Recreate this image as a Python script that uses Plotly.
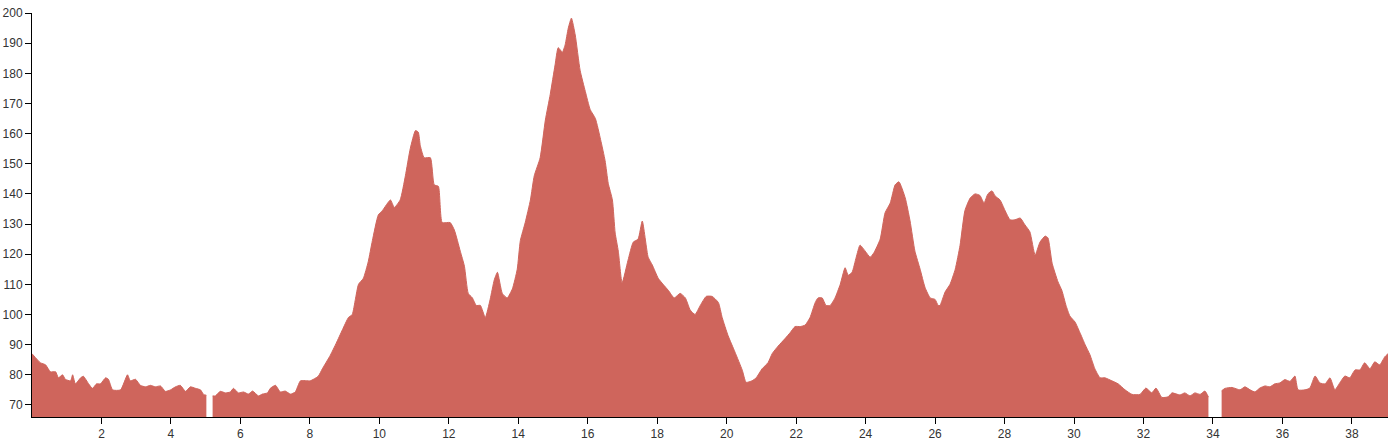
import plotly.graph_objects as go

distance_km = [
    0.0, 0.24, 0.39, 0.53, 0.68, 0.76, 0.88, 0.96, 1.11, 1.17, 1.25, 1.40, 1.48, 1.63, 1.74, 1.86, 1.97,
    2.12, 2.20, 2.32, 2.55, 2.75, 2.83, 2.98, 3.12, 3.27, 3.41, 3.55, 3.70, 3.84, 3.99, 4.13, 4.27,
    4.42, 4.56, 4.71, 4.85, 4.94, 5.02, 5.10, 5.20, 5.28, 5.42, 5.57, 5.71, 5.80, 5.94, 6.09, 6.23,
    6.35, 6.52, 6.63, 6.78, 6.86, 7.01, 7.15, 7.29, 7.44, 7.58, 7.73, 8.01, 8.24, 8.36, 8.59, 8.76,
    8.94, 9.11, 9.22, 9.31, 9.40, 9.54, 9.68, 9.80, 9.97, 10.09, 10.32, 10.43, 10.60, 10.75, 10.89,
    11.04, 11.12, 11.18, 11.29, 11.47, 11.58, 11.70, 11.81, 12.04, 12.16, 12.33, 12.45, 12.56, 12.68,
    12.79, 12.91, 13.05, 13.19, 13.31, 13.40, 13.54, 13.68, 13.83, 13.97, 14.06, 14.20, 14.35, 14.46,
    14.63, 14.78, 14.92, 15.06, 15.15, 15.27, 15.35, 15.44, 15.53, 15.64, 15.78, 15.93, 16.07, 16.22,
    16.37, 16.50, 16.59, 16.71, 16.79, 16.88, 16.99, 17.16, 17.31, 17.45, 17.57, 17.74, 17.86, 18.03,
    18.17, 18.32, 18.49, 18.66, 18.81, 18.95, 19.09, 19.24, 19.41, 19.58, 19.76, 19.87, 20.04, 20.24,
    20.45, 20.56, 20.73, 20.85, 21.02, 21.19, 21.31, 21.48, 21.68, 21.83, 21.97, 22.12, 22.26, 22.40,
    22.55, 22.63, 22.75, 22.86, 22.98, 23.12, 23.27, 23.41, 23.50, 23.61, 23.73, 23.84, 23.99, 24.13,
    24.24, 24.42, 24.56, 24.71, 24.85, 24.96, 25.14, 25.28, 25.42, 25.57, 25.71, 25.86, 26.00, 26.09,
    26.14, 26.29, 26.43, 26.58, 26.72, 26.86, 27.01, 27.15, 27.29, 27.41, 27.52, 27.64, 27.73, 27.87,
    28.01, 28.16, 28.30, 28.45, 28.59, 28.73, 28.88, 29.02, 29.17, 29.25, 29.37, 29.54, 29.65, 29.77,
    29.88, 30.03, 30.17, 30.32, 30.46, 30.60, 30.75, 30.89, 31.09, 31.27, 31.47, 31.67, 31.90, 32.07,
    32.24, 32.36, 32.53, 32.71, 32.82, 33.05, 33.19, 33.34, 33.48, 33.63, 33.77, 33.87, 34.05, 34.25,
    34.35, 34.55, 34.78, 34.92, 35.07, 35.21, 35.35, 35.50, 35.64, 35.78, 35.93, 36.07, 36.22, 36.36,
    36.45, 36.65, 36.79, 36.94, 37.08, 37.23, 37.37, 37.51, 37.65, 37.80, 37.94, 38.09, 38.23, 38.37,
    38.52, 38.66, 38.80, 38.95, 39.04,
]

elevation_m = [
    87.0, 84.0, 83.3, 81.0, 81.0, 79.0, 80.0, 78.5, 78.0, 80.0, 77.0, 79.0, 79.5, 77.0, 75.5, 77.0, 77.0,
    79.0, 78.5, 75.0, 75.0, 80.0, 78.0, 78.5, 76.5, 76.0, 76.5, 76.0, 76.3, 74.5, 75.0, 76.0, 76.5,
    74.5, 76.0, 75.5, 75.0, 73.5, 73.2, None, 73.0, 73.0, 74.5, 74.0, 74.3, 75.5, 74.0, 74.3, 73.6,
    74.6, 73.0, 73.6, 74.0, 75.5, 76.5, 74.3, 74.6, 73.6, 74.3, 78.0, 78.0, 79.5, 82.0, 86.5, 90.5,
    95.0, 99.0, 100.0, 105.0, 110.0, 112.0, 117.5, 124.5, 133.0, 134.5, 138.0, 135.5, 138.0, 146.0, 155.0,
    161.0, 160.5, 156.0, 152.0, 152.0, 143.0, 142.5, 130.5, 130.5, 128.0, 121.0, 116.0, 107.0, 105.5,
    103.0, 103.0, 99.0, 105.0, 111.5, 114.0, 107.0, 105.5, 108.5, 115.0, 124.5, 130.5, 138.0, 146.0,
    152.0, 164.5, 173.0, 182.8, 188.5, 187.0, 189.5, 195.0, 198.3, 192.7, 181.0, 174.0, 168.0, 165.0,
    158.0, 151.0, 143.5, 138.0, 127.0, 121.0, 110.5, 118.0, 124.0, 125.0, 131.0, 119.0, 116.4, 112.0,
    110.0, 108.0, 105.5, 107.0, 105.5, 101.5, 100.0, 103.0, 106.0, 106.0, 104.0, 99.0, 93.0, 87.5,
    81.5, 77.5, 78.0, 79.0, 82.0, 84.0, 87.0, 89.5, 92.0, 94.0, 96.0, 96.0, 96.5, 99.0,
    104.0, 105.5, 105.5, 103.0, 103.0, 105.5, 110.0, 115.5, 113.0, 114.0, 119.0, 123.0, 121.0, 119.0,
    120.5, 125.0, 133.7, 137.0, 143.0, 144.0, 138.7, 131.0, 121.0, 115.0, 109.0, 105.5, 105.0, 103.0,
    103.0, 107.5, 110.0, 115.0, 123.0, 134.5, 138.6, 140.0, 139.5, 137.0, 140.0, 141.0, 139.3, 138.0,
    134.6, 131.4, 131.4, 132.0, 129.7, 127.4, 119.7, 124.0, 126.0, 125.4, 117.0, 110.8, 108.0, 103.0,
    99.5, 97.5, 94.0, 90.0, 86.6, 82.0, 79.0, 79.0, 78.0, 77.0, 75.0, 73.5, 73.5, 75.6,
    74.0, 75.6, 72.5, 72.7, 74.0, 73.3, 74.0, 73.0, 74.0, 73.5, 74.6, 72.6, None, 74.7,
    75.5, 75.8, 75.0, 76.0, 75.0, 74.3, 75.6, 76.3, 76.0, 77.0, 77.3, 78.4, 77.8, 79.6,
    75.0, 75.0, 75.6, 79.6, 77.3, 77.0, 79.0, 75.0, 77.3, 79.6, 79.0, 81.6, 81.6, 84.0,
    82.0, 84.3, 83.3, 86.0, 87.0,
]

x_ticks = [2, 4, 6, 8, 10, 12, 14, 16, 18, 20, 22, 24, 26, 28, 30, 32, 34, 36, 38]
y_ticks = [70, 80, 90, 100, 110, 120, 130, 140, 150, 160, 170, 180, 190, 200]

fill_color = "rgb(207,101,92)"

# split the profile into continuous segments at missing readings
segments = []
cur_x, cur_y = [], []
for xv, yv in zip(distance_km, elevation_m):
    if yv is None:
        if cur_x:
            segments.append((cur_x, cur_y))
        cur_x, cur_y = [], []
    else:
        cur_x.append(xv)
        cur_y.append(yv)
if cur_x:
    segments.append((cur_x, cur_y))

fig = go.Figure()
for sx, sy in segments:
    fig.add_trace(
        go.Scatter(
            x=sx,
            y=sy,
            mode="lines",
            line=dict(color=fill_color, width=1, shape="spline", smoothing=0.5),
            fill="tozeroy",
            fillcolor=fill_color,
            hoverinfo="skip",
        )
    )

axis_common = dict(
    showgrid=False,
    zeroline=False,
    showline=True,
    linecolor="#000000",
    linewidth=1,
    ticks="outside",
    ticklen=6,
    tickcolor="#000000",
    tickfont=dict(family="Liberation Sans, Arial, sans-serif", size=12, color="#333333"),
)

fig.update_layout(
    width=1395,
    height=438,
    margin=dict(l=32, r=7, t=13, b=21, autoexpand=False),
    paper_bgcolor="white",
    plot_bgcolor="white",
    showlegend=False,
    xaxis=dict(range=[0, 39.04], tickvals=x_ticks, ticktext=[str(v) for v in x_ticks], **axis_common),
    yaxis=dict(range=[66, 200], tickvals=y_ticks, ticktext=[str(v) for v in y_ticks], **axis_common),
)

fig.write_html(
    "out.html",
    config={"displayModeBar": False},
    post_script="document.body.style.margin='0';document.body.style.overflow='hidden';",
)
